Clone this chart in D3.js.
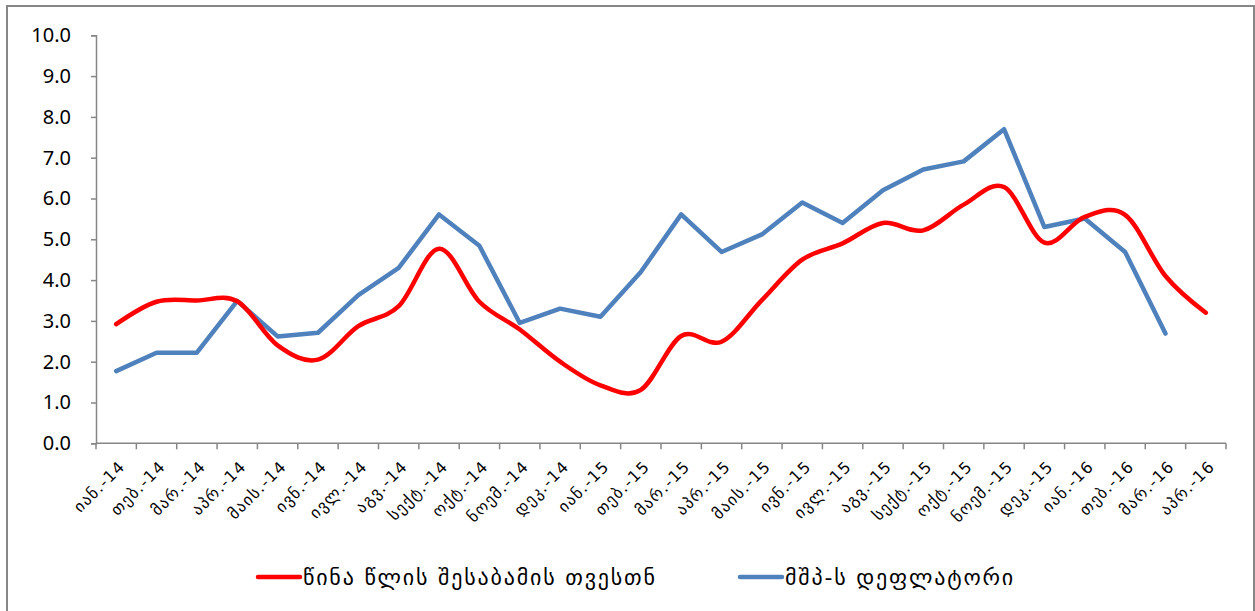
<!DOCTYPE html>
<html>
<head>
<meta charset="utf-8">
<script src="https://cdn.jsdelivr.net/npm/d3@7"></script>
<style>
  body { margin: 0; background: #fff; }
  svg { display: block; }
  .axis path, .axis line { stroke: #868686; stroke-width: 1.5; }
  .y-axis text { font-family: "Noto Sans", sans-serif; font-size: 20px; fill: #000; }
  .x-axis text { font-family: "DejaVu Sans", sans-serif; font-size: 16px; letter-spacing: 1.3px; fill: #000; }
  .legend text { font-family: "DejaVu Sans", sans-serif; font-size: 22px; letter-spacing: 1.8px; fill: #000; }
</style>
</head>
<body>
<svg id="wrapper"></svg>
<script>
// categories (months Jan-14 .. Apr-16)
let months = ["იან.-14","თებ.-14","მარ.-14","აპრ.-14","მაის.-14","ივნ.-14","ივლ.-14","აგვ.-14","სექტ.-14","ოქტ.-14","ნოემ.-14","დეკ.-14",
              "იან.-15","თებ.-15","მარ.-15","აპრ.-15","მაის.-15","ივნ.-15","ივლ.-15","აგვ.-15","სექტ.-15","ოქტ.-15","ნოემ.-15","დეკ.-15",
              "იან.-16","თებ.-16","მარ.-16","აპრ.-16"];

// series 1: compared to same month of previous year (red, smoothed)
let yoyValues = [2.92,3.47,3.50,3.48,2.40,2.05,2.87,3.36,4.77,3.47,2.79,2.00,1.42,1.31,2.63,2.49,3.51,4.50,4.90,5.40,5.22,5.85,6.28,4.92,5.55,5.60,4.10,3.20];

// series 2: GDP deflator (blue), no value for Apr-16
let deflValues = [1.77,2.22,2.22,3.49,2.62,2.71,3.63,4.30,5.61,4.84,2.95,3.30,3.10,4.20,5.61,4.69,5.12,5.90,5.40,6.20,6.71,6.91,7.70,5.30,5.51,4.69,2.69,null];

let yTicks = [0,1,2,3,4,5,6,7,8,9,10];

let seriesNames = ["წინა წლის შესაბამის თვესთნ","მშპ-ს დეფლატორი"];
let seriesColors = ["#ff0000","#4f81bd"];

let width = 1255, height = 611;
let plot = {left: 96, right: 1226, top: 35.3, bottom: 443.3};

let svg = d3.select('#wrapper')
  .attr('width',width)
  .attr('height',height);

// outer chart border
svg.append('rect')
  .attr('x',7).attr('y',6)
  .attr('width',1247).attr('height',620)
  .attr('fill','none')
  .attr('stroke','#868686')
  .attr('stroke-width',2);

let xScale = d3.scaleBand()
  .domain(months)
  .range([plot.left,plot.right]);

let yScale = d3.scaleLinear()
  .domain([0,10])
  .range([plot.bottom,plot.top]);

let xc = function(d){ return xScale(d) + xScale.bandwidth()/2; };

// y axis
let yAxis = d3.axisLeft(yScale)
  .tickValues(yTicks)
  .tickSize(5)
  .tickSizeOuter(5)
  .tickPadding(20)
  .tickFormat(d3.format('.1f'));

svg.append('g')
  .attr('class','y-axis axis')
  .attr('transform','translate('+plot.left+',0)')
  .call(yAxis);

// x axis: ticks between categories
let xAxisG = svg.append('g')
  .attr('class','x-axis axis')
  .attr('transform','translate(0,'+plot.bottom+')');

xAxisG.append('line')
  .attr('x1',plot.left).attr('x2',plot.right)
  .attr('y1',0).attr('y2',0);

let bounds = months.map(function(d){ return xScale(d); }).concat([plot.right]);
xAxisG.selectAll('.tk')
  .data(bounds)
  .enter().append('line')
  .attr('class','tk')
  .attr('x1',function(d){return d;}).attr('x2',function(d){return d;})
  .attr('y1',0).attr('y2',6);

xAxisG.selectAll('.lbl')
  .data(months)
  .enter().append('text')
  .attr('class','lbl')
  .attr('text-anchor','end')
  .attr('transform',function(d){ return 'translate('+(xc(d)+10)+',24) rotate(-45)'; })
  .text(function(d){ return d; });

// lines
let yoyData = months.map(function(m,i){ return {m:m, v:yoyValues[i]}; });
let deflData = months.map(function(m,i){ return {m:m, v:deflValues[i]}; });

let smoothLine = d3.line()
  .x(function(d){ return xc(d.m); })
  .y(function(d){ return yScale(d.v); })
  .curve(d3.curveCardinal.tension(0));

let straightLine = d3.line()
  .defined(function(d){ return d.v !== null; })
  .x(function(d){ return xc(d.m); })
  .y(function(d){ return yScale(d.v); });

svg.append('path')
  .datum(deflData)
  .attr('fill','none')
  .attr('stroke',seriesColors[1])
  .attr('stroke-width',4.5)
  .attr('stroke-linejoin','round')
  .attr('stroke-linecap','round')
  .attr('d',straightLine);

svg.append('path')
  .datum(yoyData)
  .attr('fill','none')
  .attr('stroke',seriesColors[0])
  .attr('stroke-width',4.5)
  .attr('stroke-linejoin','round')
  .attr('stroke-linecap','round')
  .attr('d',smoothLine);

// legend
let legendX = [258,740];
let legend = svg.append('g').attr('class','legend');
seriesNames.forEach(function(name,i){
  legend.append('line')
    .attr('x1',legendX[i]).attr('x2',legendX[i]+42)
    .attr('y1',577).attr('y2',577)
    .attr('stroke',seriesColors[i])
    .attr('stroke-width',4.5)
    .attr('stroke-linecap','round');
  legend.append('text')
    .attr('x',legendX[i]+45)
    .attr('y',585)
    .text(name);
});
</script>
</body>
</html>
